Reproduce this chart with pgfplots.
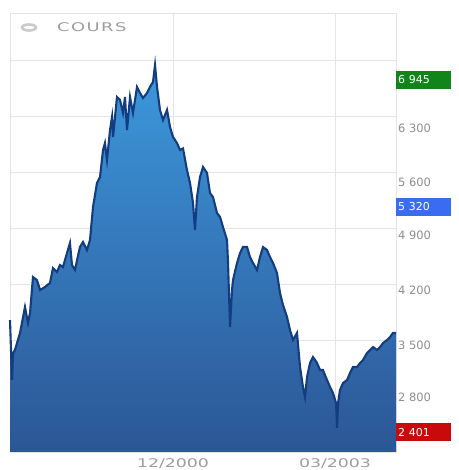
\documentclass[border=0pt]{standalone}
\usepackage{pgfplots}
\pgfplotsset{compat=1.18}
\usepackage{pgfplotstable}
\usepackage{fontspec}
\setmainfont{DejaVu Sans}
\newfontfamily\coursfont[FakeStretch=1.5, LetterSpace=12]{DejaVu Sans}
\newfontfamily\widefont[FakeStretch=1.45]{DejaVu Sans}

\definecolor{fillTop}{HTML}{3C98DC}
\definecolor{fillBot}{HTML}{2C5696}
\definecolor{lineC}{HTML}{143C80}
\definecolor{gridC}{HTML}{E4E4E4}
\definecolor{lblC}{HTML}{8C8C8C}
\definecolor{boxG}{HTML}{11841A}
\definecolor{boxB}{HTML}{3A6CF2}
\definecolor{boxR}{HTML}{C80A0A}

% CAC 40, cours (annee decimale, points)
\pgfplotstableread{
x y
1998.653 3752
1998.681 3001
1998.695 3339
1998.722 3377
1998.792 3590
1998.861 3915
1998.903 3715
1998.931 3840
1998.972 4291
1999.028 4253
1999.070 4128
1999.139 4166
1999.208 4216
1999.250 4403
1999.306 4353
1999.347 4441
1999.389 4416
1999.445 4591
1999.486 4716
1999.514 4441
1999.556 4378
1999.584 4504
1999.625 4666
1999.667 4729
1999.722 4629
1999.764 4754
1999.806 5167
1999.861 5468
1999.903 5543
1999.945 5881
1999.972 5968
2000.000 5756
2000.042 6131
2000.070 6294
2000.084 6044
2000.139 6544
2000.181 6507
2000.222 6344
2000.250 6544
2000.278 6131
2000.320 6544
2000.361 6344
2000.417 6670
2000.459 6594
2000.500 6532
2000.556 6594
2000.597 6670
2000.639 6732
2000.667 6945
2000.695 6670
2000.736 6382
2000.778 6256
2000.834 6382
2000.875 6169
2000.917 6044
2000.972 5968
2001.014 5881
2001.056 5900
2001.111 5630
2001.153 5468
2001.195 5217
2001.222 4879
2001.250 5292
2001.292 5543
2001.334 5668
2001.389 5593
2001.431 5342
2001.472 5292
2001.528 5092
2001.570 5042
2001.611 4917
2001.667 4754
2001.681 4466
2001.709 3665
2001.736 4128
2001.750 4253
2001.806 4466
2001.848 4591
2001.889 4666
2001.945 4666
2001.986 4541
2002.028 4466
2002.084 4378
2002.125 4541
2002.167 4666
2002.222 4629
2002.264 4541
2002.306 4466
2002.361 4341
2002.403 4090
2002.445 3940
2002.500 3790
2002.542 3627
2002.584 3502
2002.639 3590
2002.681 3164
2002.722 2914
2002.750 2788
2002.778 3039
2002.820 3214
2002.861 3289
2002.917 3214
2002.959 3126
2003.000 3126
2003.056 3001
2003.097 2914
2003.139 2838
2003.181 2713
2003.195 2401
2003.209 2713
2003.236 2876
2003.278 2964
2003.334 3001
2003.375 3089
2003.417 3164
2003.472 3164
2003.514 3214
2003.556 3252
2003.611 3339
2003.653 3377
2003.695 3414
2003.750 3377
2003.792 3414
2003.834 3464
2003.889 3502
2003.931 3540
2003.972 3590
2004.014 3590
}\cours

\begin{document}
\begin{tikzpicture}[x=1bp,y=1bp,
    lbl/.style={anchor=west, text=lblC, font=\fontsize{11.5}{11.5}\selectfont, inner sep=0pt, xshift=2bp},
    box/.style={anchor=west, fill=#1, text=white, font=\fontsize{11}{11}\selectfont,
      inner xsep=2bp, text width=51bp, minimum height=18bp}]
\useasboundingbox (0,0) rectangle (459,470);
\begin{axis}[
    at={(10bp,18bp)}, anchor=south west,
    scale only axis, width=386bp, height=439bp,
    xmin=1998.653, xmax=2004.014,
    ymin=2100, ymax=7596,
    clip=false,
    axis line style={draw=gridC},
    grid style={draw=gridC, line width=0.8bp},
    xmajorgrids, ymajorgrids,
    xtick={2000.917,2003.167},
    xticklabels={12/2000,03/2003},
    xticklabel style={font=\widefont\fontsize{12}{12}\selectfont, text=lblC!85,
      anchor=north, inner sep=0pt, yshift=-6bp},
    ytick={2800,3500,4200,4900,5600,6300,7000},
    yticklabels={},
    major tick length=0pt,
]
\addplot[draw=none, top color=fillTop, bottom color=fillBot] table[x=x,y=y] {\cours} \closedcycle;
\addplot[lineC, line width=2.1bp] table[x=x,y=y] {\cours};

% etiquettes de l'axe droit
\node[lbl] at (axis cs:2004.014,6156) {6 300};
\node[lbl] at (axis cs:2004.014,5480) {5 600};
\node[lbl] at (axis cs:2004.014,4817) {4 900};
\node[lbl] at (axis cs:2004.014,4128) {4 200};
\node[lbl] at (axis cs:2004.014,3439) {3 500};
\node[lbl] at (axis cs:2004.014,2788) {2 800};
\node[box=boxG] at (axis cs:2004.014,6757) {6 945};
\node[box=boxB] at (axis cs:2004.014,5167) {5 320};
\node[box=boxR] at (axis cs:2004.014,2350) {2 401};
\end{axis}
\draw[draw=lblC!45, line width=2.6bp] (29,442.5) circle[x radius=7, y radius=3];
\node[anchor=west, text=lblC!85, font=\coursfont\fontsize{12}{12}\selectfont, inner sep=0pt] at (57,442.5) {COURS};
\end{tikzpicture}
\end{document}
